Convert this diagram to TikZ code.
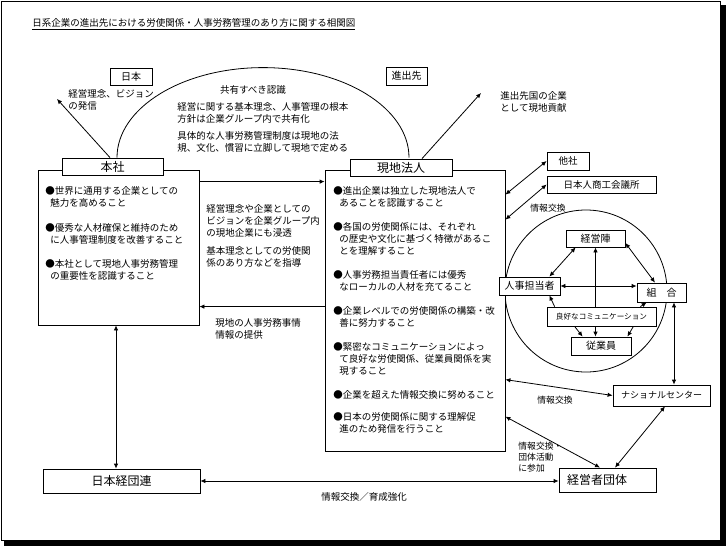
\documentclass[tikz,border=0pt]{standalone}
\usepackage{fontspec}
\newfontfamily\jp{Noto Sans CJK JP}
\usetikzlibrary{arrows.meta}

\tikzset{
  box/.style={draw,fill=white,inner sep=0pt},
  txt/.style={align=left,inner sep=0pt,anchor=north west},
  big/.style={font=\jp\fontsize{12}{14}\selectfont},
  mid/.style={font=\jp\fontsize{10}{12}\selectfont},
  small/.style={font=\jp\fontsize{8.8}{11}\selectfont},
  arr/.style={-{Latex[length=5pt,width=4.5pt]}},
  darr/.style={{Latex[length=5pt,width=4.5pt]}-{Latex[length=5pt,width=4.5pt]}},
}

\begin{document}
\begin{tikzpicture}[x=1pt,y=-1pt,line width=0.8pt,font=\jp\fontsize{9.5}{12}\selectfont]
\useasboundingbox (0,0) rectangle (726,546);

% frame with shadow
\fill (4,5) rectangle (726,546);
\draw[fill=white] (1,1) rectangle (720,540);

\node[anchor=west,inner sep=0pt] (title) at (32,24) {\underline{日系企業の進出先における労使関係・人事労務管理のあり方に関する相関図}};

% ring round the local actors
\draw (586,291) circle[radius=81pt];

% boxes
\node[box,mid,minimum width=42pt,minimum height=17pt] (japan) at (131,76.5) {日本};
\node[box,mid,minimum width=41pt,minimum height=18pt] (host) at (406.5,76) {進出先};

\node[box,minimum width=161pt,minimum height=155pt] (hq) at (118.5,247.5) {};
\node[box,big,minimum width=101pt,minimum height=17pt] (hqlbl) at (112.5,166.5) {本社};
\node[box,minimum width=180pt,minimum height=281pt] (local) at (415,310.5) {};
\node[box,big,minimum width=102pt,minimum height=17pt] (loclbl) at (401,167.5) {現地法人};

\node[box,minimum width=42pt,minimum height=18pt] (other) at (568,161) {他社};
\node[box,minimum width=109pt,minimum height=17pt] (jcci) at (601.5,184.5) {日本人商工会議所};
\node[box,mid,minimum width=59pt,minimum height=17pt] (mgmt) at (595.5,238.5) {経営陣};
\node[box,mid,minimum width=61pt,minimum height=18pt] (hr) at (529.5,286) {人事担当者};
\node[box,mid,minimum width=49pt,minimum height=19pt] (union) at (661.5,292.5) {組　合};
\node[box,font=\jp\fontsize{7.6}{9}\selectfont,minimum width=109pt,minimum height=19pt] (comm) at (601.5,316.5) {良好なコミュニケーション};
\node[box,mid,minimum width=60pt,minimum height=18pt] (emp) at (601,346) {従業員};
\node[box,font=\jp\fontsize{9}{11}\selectfont,minimum width=97pt,minimum height=21pt] (natc) at (661.5,395.5) {ナショナルセンター};
\node[box,big,text width=81pt,minimum width=97pt,minimum height=24pt] (emporg) at (607.5,480) {経営者団体};
\node[box,big,minimum width=157pt,minimum height=24pt] (keidanren) at (121.5,481) {日本経団連};

% bullets
\foreach \y/\t [count=\i] in {186/{●世界に通用する企業としての\\\hspace*{5pt}魅力を高めること},
  223/{●優秀な人材確保と維持のため\\\hspace*{5pt}に人事管理制度を改善すること},
  259/{●本社として現地人事労務管理\\\hspace*{5pt}の重要性を認識すること}}
  \node[txt] (hq\i) at (45,\y) {\t};

\foreach \y/\t [count=\i] in {186/{●進出企業は独立した現地法人で\\\hspace*{6pt}あることを認識すること},
  222/{●各国の労使関係には、それぞれ\\\hspace*{6pt}の歴史や文化に基づく特徴があるこ\\\hspace*{6pt}とを理解すること},
  270/{●人事労務担当責任者には優秀\\\hspace*{6pt}なローカルの人材を充てること},
  306/{●企業レベルでの労使関係の構築・改\\\hspace*{6pt}善に努力すること},
  342/{●緊密なコミュニケーションによっ\\\hspace*{6pt}て良好な労使関係、従業員関係を実\\\hspace*{6pt}現すること},
  390/{●企業を超えた情報交換に努めること},
  412/{●日本の労使関係に関する理解促\\\hspace*{6pt}進のため発信を行うこと}}
  \node[txt] (loc\i) at (333,\y) {\t};

% texts
\node[txt] (jpmsg) at (68,89) {経営理念、ビジョン\\の発信};
\node[txt] (hostmsg) at (500,91) {進出先国の企業\\として現地貢献};
\node[inner sep=0pt] (sharedhd) at (253,90) {共有すべき認識};
\node[txt] (shared1) at (177,102) {経営に関する基本理念、人事管理の根本\\方針は企業グループ内で共有化};
\node[txt] (shared2) at (177,131) {具体的な人事労務管理制度は現地の法\\規、文化、慣習に立脚して現地で定める};
\node[txt] (down1) at (206,204) {経営理念や企業としての\\ビジョンを企業グループ内\\の現地企業にも浸透};
\node[txt] (down2) at (206,246) {基本理念としての労使関\\係のあり方などを指導};
\node[txt] (up1) at (215,318) {現地の人事労務事情\\情報の提供};
\node[small,inner sep=0pt] (xch1) at (548,208) {情報交換};
\node[small,inner sep=0pt] (xch2) at (555,400) {情報交換};
\node[txt,small] (xch3) at (518,442) {情報交換・\\団体活動\\に参加};
\node[inner sep=0pt] (xch4) at (364,497) {情報交換／育成強化};

% connectors
\coordinate (jpend) at (57,99);
\coordinate (hostend) at (481,93);
\draw ([xshift=4.5pt]hqlbl.north) arc[start angle=180,end angle=0,x radius=146pt,y radius=90pt];
\draw[arr] ([xshift=-2.5pt]hqlbl.north) -- (jpend);
\draw[arr] ([xshift=21pt]loclbl.north) -- (hostend);
\draw[arr] ([yshift=-12pt]hq.north east) -- ([yshift=-12pt]local.north west);
\draw[arr] ([yshift=-137pt]local.north west) -- ([yshift=-137pt]hq.north east);
\draw[darr] ([xshift=-2.5pt]hq.south) -- ([xshift=-2.5pt]hq.south |- keidanren.north);
\draw[darr] (keidanren.east) -- (keidanren.east -| emporg.west);
\draw[darr] ([yshift=-25pt]local.north east) -- (other.west);
\draw[darr] ([yshift=-50pt]local.north east) -- (jcci.west);
\draw[darr] ([yshift=-210pt]local.north east) -- (natc.west);
\draw[darr] ([yshift=-247pt]local.north east) -- ([xshift=-7.5pt]emporg.north);
\draw[darr] ([xshift=3.5pt]natc.south) -- ([xshift=7.5pt]emporg.north);
\draw[darr] ([xshift=12.5pt]union.south) -- ([xshift=12.5pt]union.south |- natc.north);
\draw[darr] ([xshift=10pt]mgmt.south west) -- ([xshift=-11pt]hr.north east);
\draw[darr] ([yshift=-4.5pt]mgmt.east) -- ([xshift=-6.5pt]union.north);
\draw[darr] (hr.east) -- (hr.east -| union.west);
\draw[arr] ([xshift=8pt]comm.north west) -- ([xshift=-11pt]hr.south east);
\draw[arr] ([xshift=-16pt]comm.north east) -- ([xshift=10pt]union.south west);
\draw[arr] ([xshift=28pt]comm.south west) -- ([xshift=12pt]emp.north west);
\draw[arr] ([xshift=-23pt]comm.south east) -- ([xshift=-4pt]emp.north east);
\draw[arr] (mgmt.south |- comm.north) -- (mgmt.south);
\draw[arr] (mgmt.south |- comm.south) -- (mgmt.south |- emp.north);

\end{tikzpicture}
\end{document}
